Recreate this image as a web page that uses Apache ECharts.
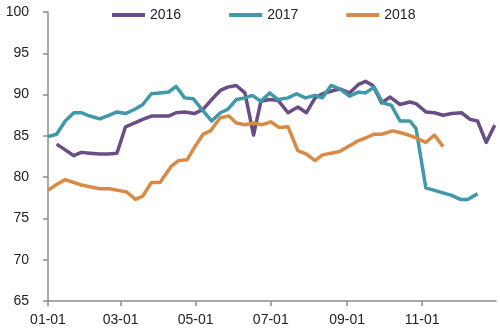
<!DOCTYPE html>
<html>
<head>
<meta charset="utf-8">
<script src="https://cdn.jsdelivr.net/npm/echarts@6/dist/echarts.min.js"></script>
<style>
  html, body { margin: 0; padding: 0; background: #fff; }
  #chart { width: 500px; height: 335px; }
</style>
</head>
<body>
<div id="chart"></div>
<script>
// Weekly readings, dates given as month-day
const dates2016 = ['01-08','01-15','01-22','01-28','02-04','02-12','02-19','02-26','03-05','03-13','03-19','03-26',
  '04-02','04-09','04-15','04-22','04-30','05-07','05-14','05-21','05-27','06-03','06-10','06-17','06-23','06-30',
  '07-07','07-15','07-23','07-30','08-06','08-12','08-19','08-26','09-03','09-10','09-16','09-22','09-29',
  '10-06','10-14','10-22','10-27','11-04','11-11','11-18','11-25','12-03','12-10','12-16','12-23','12-30'];
const values2016 = [84.0,83.3,82.6,83.0,82.9,82.8,82.8,82.9,86.1,86.6,87.0,87.4,
  87.4,87.4,87.8,87.9,87.7,88.2,89.4,90.5,90.9,91.1,90.2,85.1,89.2,89.4,
  89.3,87.8,88.5,87.8,89.6,90.1,90.4,90.7,90.2,91.2,91.6,91.1,89.0,
  89.7,88.8,89.1,88.9,87.9,87.8,87.5,87.7,87.8,87.0,86.8,84.2,86.3];

const dates2017 = ['01-01','01-08','01-15','01-22','01-28','02-04','02-12','02-19','02-26','03-05','03-13','03-19','03-26',
  '04-02','04-09','04-15','04-22','04-29','05-06','05-14','05-21','05-27','06-03','06-10','06-16','06-23','06-30',
  '07-07','07-15','07-22','07-29','08-06','08-12','08-19','08-26','09-03','09-10','09-16','09-23','09-30',
  '10-07','10-14','10-22','10-27','11-04','11-11','11-18','11-25','12-02','12-08','12-16'];
const values2017 = [84.9,85.2,86.8,87.8,87.8,87.4,87.05,87.45,87.9,87.7,88.25,88.8,90.1,
  90.2,90.3,91.0,89.6,89.5,88.2,86.8,87.8,88.2,89.4,89.6,89.9,89.2,90.2,
  89.4,89.6,90.1,89.6,89.9,89.6,91.1,90.7,89.8,90.3,90.2,90.9,89.0,
  88.7,86.8,86.8,85.9,78.7,78.4,78.1,77.8,77.3,77.3,78.0];

const dates2018 = ['01-01','01-08','01-15','01-22','01-28','02-05','02-12','02-20','02-27','03-06','03-13','03-19','03-26',
  '04-02','04-11','04-17','04-24','04-30','05-07','05-13','05-21','05-28','06-03','06-10','06-17','06-24',
  '07-01','07-08','07-15','07-23','07-30','08-06','08-12','08-19','08-26','09-03','09-10','09-17','09-23','09-29',
  '10-08','10-14','10-21','10-28','11-04','11-11','11-18'];
const values2018 = [78.4,79.1,79.7,79.35,79.05,78.8,78.6,78.6,78.4,78.2,77.3,77.7,79.35,
  79.35,81.3,82.0,82.1,83.6,85.2,85.6,87.2,87.4,86.55,86.35,86.55,86.35,
  86.7,86.0,86.1,83.2,82.8,82.0,82.7,82.9,83.1,83.8,84.4,84.8,85.2,85.2,
  85.6,85.4,85.1,84.7,84.2,85.1,83.7];

const seriesNames = ['2016', '2017', '2018'];
const xTickDates = ['01-01','03-01','05-01','07-01','09-01','11-01'];
const yTicks = [65, 70, 75, 80, 85, 90, 95, 100];

// All years share one 365-day calendar so the seasons line up;
// the x axis counts days from January 1st.
const DAY = 86400000;
const YEAR0 = Date.UTC(2017, 0, 1);
const toDay = md => {
  const [m, d] = md.split('-').map(Number);
  return Math.round((Date.UTC(2017, m - 1, d) - YEAR0) / DAY);
};
const pad = n => (n < 10 ? '0' : '') + n;
const fromDay = v => {
  const t = new Date(YEAR0 + Math.round(v) * DAY);
  return pad(t.getUTCMonth() + 1) + '-' + pad(t.getUTCDate());
};
const pairs = (ds, vs) => ds.map((d, i) => [toDay(d), vs[i]]);

const colors = ['#684D87', '#3F99A8', '#D98A45'];
const labelFont = { fontFamily: 'Liberation Sans', fontSize: 14, color: '#222' };

const chart = echarts.init(document.getElementById('chart'), null, { renderer: 'canvas' });
chart.setOption({
  animation: false,
  color: colors,
  grid: { left: 48, right: 4, top: 12, bottom: 34, containLabel: false },
  legend: {
    left: 107, top: 3,
    icon: 'rect', itemWidth: 33, itemHeight: 4, itemGap: 48,
    textStyle: { fontFamily: 'Liberation Sans', fontSize: 14, color: '#222' },
    data: seriesNames
  },
  xAxis: {
    type: 'value',
    min: 0,
    max: toDay('12-31'),
    splitLine: { show: false },
    axisLine: { lineStyle: { color: '#8c8c8c', width: 1.5 } },
    axisTick: { show: true, length: 5, lineStyle: { color: '#8c8c8c', width: 1.5 },
      customValues: xTickDates.map(toDay) },
    axisLabel: Object.assign({
      margin: 12,
      customValues: xTickDates.map(toDay),
      formatter: v => fromDay(v)
    }, labelFont)
  },
  yAxis: {
    type: 'value',
    min: yTicks[0], max: yTicks[yTicks.length - 1], interval: 5,
    splitLine: { show: false },
    axisLine: { show: true, lineStyle: { color: '#8c8c8c', width: 1.5 } },
    axisTick: { show: true, length: 5, lineStyle: { color: '#8c8c8c', width: 1.5 } },
    axisLabel: Object.assign({ margin: 19 }, labelFont)
  },
  series: [
    [dates2016, values2016],
    [dates2017, values2017],
    [dates2018, values2018]
  ].map(([ds, vs], i) => ({
    name: seriesNames[i],
    type: 'line',
    data: pairs(ds, vs),
    showSymbol: false,
    symbol: 'none',
    lineStyle: { width: 3.5, color: colors[i], join: 'round' },
    emphasis: { disabled: true }
  }))
});
</script>
</body>
</html>
